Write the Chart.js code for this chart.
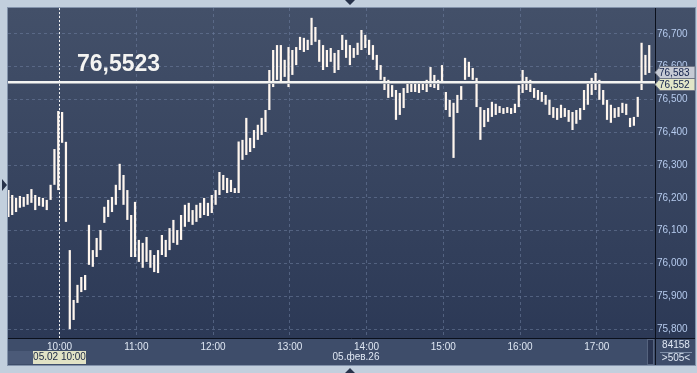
<!DOCTYPE html>
<html lang="ru">
<head>
<meta charset="UTF-8">
<title>USD/RUB 05.02</title>
<script src="https://cdn.jsdelivr.net/npm/chart.js"></script>
<style>
  html, body { margin: 0; padding: 0; background: #c2cfdd; }
  canvas { display: block; }
</style>
</head>
<body>
<canvas id="grafico" width="697" height="373"></canvas>
<script>
// minute bars, 3 min step, minutes counted from 10:00
const startMinute = -40;
const stepMinutes = 3;

const highs = [
  76.224, 76.209, 76.200, 76.206, 76.203, 76.212, 76.227, 76.209, 76.203, 76.200,
  76.194, 76.240, 76.349, 76.465, 76.462, 76.371, 76.041, 75.889, 75.935, 75.959,
  75.965, 76.118, 76.041, 76.078, 76.102, 76.173, 76.194, 76.203, 76.240, 76.304,
  76.270, 76.224, 76.148, 76.188, 76.072, 76.063, 76.081, 76.041, 76.026, 76.041,
  76.087, 76.072, 76.108, 76.133, 76.102, 76.148, 76.179, 76.185, 76.163, 76.179,
  76.185, 76.200, 76.185, 76.209, 76.224, 76.279, 76.270, 76.261, 76.255, 76.230,
  76.372, 76.377, 76.444, 76.383, 76.407, 76.423, 76.444, 76.468, 76.590, 76.651,
  76.666, 76.666, 76.621, 76.660, 76.651, 76.660, 76.691, 76.688, 76.682, 76.749,
  76.721, 76.682, 76.666, 76.651, 76.657, 76.642, 76.651, 76.697, 76.682, 76.666,
  76.657, 76.673, 76.712, 76.697, 76.682, 76.666, 76.636, 76.605, 76.569, 76.560,
  76.544, 76.529, 76.520, 76.535, 76.554, 76.551, 76.554, 76.548, 76.554, 76.560,
  76.599, 76.575, 76.560, 76.605, 76.523, 76.499, 76.490, 76.514, 76.541, 76.627,
  76.615, 76.596, 76.566, 76.477, 76.468, 76.474, 76.493, 76.487, 76.480, 76.474,
  76.477, 76.474, 76.487, 76.544, 76.590, 76.569, 76.560, 76.535, 76.529, 76.523,
  76.514, 76.499, 76.477, 76.474, 76.484, 76.474, 76.468, 76.462, 76.468, 76.474,
  76.529, 76.551, 76.566, 76.581, 76.560, 76.529, 76.499, 76.484, 76.474, 76.477,
  76.490, 76.487, 76.444, 76.447, 76.508, 76.673, 76.636, 76.666
];
const lows = [
  76.142, 76.148, 76.157, 76.170, 76.173, 76.179, 76.185, 76.163, 76.176, 76.173,
  76.163, 76.194, 76.240, 76.224, 76.368, 76.127, 75.800, 75.828, 75.880, 75.913,
  75.919, 75.996, 75.990, 76.020, 76.041, 76.124, 76.142, 76.157, 76.179, 76.224,
  76.179, 76.133, 76.020, 76.020, 76.005, 75.987, 76.005, 75.987, 75.974, 75.971,
  76.026, 76.020, 76.041, 76.063, 76.057, 76.072, 76.112, 76.127, 76.118, 76.127,
  76.139, 76.148, 76.145, 76.154, 76.179, 76.209, 76.224, 76.215, 76.218, 76.215,
  76.215, 76.316, 76.331, 76.340, 76.352, 76.377, 76.392, 76.401, 76.468, 76.538,
  76.560, 76.551, 76.569, 76.538, 76.575, 76.605, 76.651, 76.645, 76.651, 76.666,
  76.676, 76.615, 76.590, 76.599, 76.615, 76.581, 76.590, 76.651, 76.627, 76.605,
  76.627, 76.636, 76.651, 76.657, 76.636, 76.621, 76.590, 76.560, 76.529, 76.505,
  76.508, 76.438, 76.453, 76.474, 76.520, 76.523, 76.523, 76.520, 76.529, 76.523,
  76.538, 76.535, 76.529, 76.551, 76.468, 76.447, 76.322, 76.459, 76.499, 76.560,
  76.569, 76.560, 76.477, 76.377, 76.416, 76.432, 76.447, 76.453, 76.459, 76.456,
  76.459, 76.456, 76.459, 76.477, 76.520, 76.529, 76.523, 76.505, 76.499, 76.493,
  76.484, 76.453, 76.444, 76.438, 76.444, 76.447, 76.432, 76.407, 76.426, 76.438,
  76.468, 76.484, 76.514, 76.529, 76.499, 76.484, 76.438, 76.429, 76.444, 76.447,
  76.459, 76.453, 76.416, 76.420, 76.447, 76.529, 76.575, 76.581
];

const hourTicks = [0, 60, 120, 180, 240, 300, 360, 420];
const priceTicks = [75.8, 75.9, 76.0, 76.1, 76.2, 76.3, 76.4, 76.5, 76.6, 76.7];
const lastPrice = 76.5523;
const tagPrices = [76.583, 76.552];
const cursorLabel = '05.02 10:00';
const dateLabel = '05.фев.26';
const barCount = '84158';
const visibleBars = '>505<';

const fmt = v => v.toFixed(3).replace('.', ',');
const bars = highs.map((h, i) => ({ x: startMinute + i * stepMinutes, y: [lows[i], h] }));

const decor = {
  id: 'decor',
  beforeDraw(chart) {
    const ctx = chart.ctx;
    ctx.save();
    ctx.fillStyle = '#c2cfdd';
    ctx.fillRect(0, 0, 697, 373);
    const g = ctx.createLinearGradient(0, 8, 0, 338);
    g.addColorStop(0, '#435069');
    g.addColorStop(1, '#2c3956');
    ctx.fillStyle = g;
    ctx.fillRect(8, 8, 687, 330);
    ctx.fillStyle = '#3e4d6a';
    ctx.fillRect(8, 338, 687, 27);
    ctx.fillStyle = '#4b5a78';
    ctx.fillRect(8, 351, 25, 13);
    ctx.strokeStyle = '#8393ab';
    ctx.lineWidth = 1;
    ctx.strokeRect(7.5, 7.5, 688, 358);
    ctx.restore();
  },
  afterDraw(chart) {
    const ctx = chart.ctx;
    const xs = chart.scales.x, ys = chart.scales.y;
    const ca = chart.chartArea;
    ctx.save();

    // axis separators
    ctx.strokeStyle = '#0b101c';
    ctx.lineWidth = 1;
    ctx.beginPath();
    ctx.moveTo(ca.right + 0.5, 8); ctx.lineTo(ca.right + 0.5, 365);
    ctx.moveTo(8, ca.bottom + 0.5); ctx.lineTo(695, ca.bottom + 0.5);
    ctx.stroke();

    // cursor line at 10:00
    const cx = Math.round(xs.getPixelForValue(0)) - 0.5;
    ctx.strokeStyle = '#f2f2f2';
    ctx.setLineDash([2, 2]);
    ctx.beginPath();
    ctx.moveTo(cx, ca.top); ctx.lineTo(cx, ca.bottom);
    ctx.stroke();
    ctx.setLineDash([]);

    // last price line
    const ly = Math.round(ys.getPixelForValue(lastPrice));
    ctx.fillStyle = '#f4f4f2';
    ctx.fillRect(ca.left, ly - 1, ca.right - ca.left, 2);
    ctx.fillStyle = '#9ea3ad';
    ctx.fillRect(ca.left, ly + 1, ca.right - ca.left, 1);

    ctx.fillStyle = '#f4f4f2';
    ctx.font = 'bold 23px "Liberation Sans", Arial, sans-serif';
    ctx.textBaseline = 'alphabetic';
    ctx.textAlign = 'left';
    ctx.fillText(lastPrice.toFixed(4).replace('.', ','), 77, 71);

    // price tags on the right axis
    const t1 = Math.round(ys.getPixelForValue(tagPrices[0])) + 0.5;
    const tagYs = [t1, t1 + 12];
    const tagFills = ['#c6cad4', '#e2e6c8'];
    ctx.font = '10px "Liberation Sans", Arial, sans-serif';
    ctx.textBaseline = 'middle';
    tagPrices.forEach((p, i) => {
      const y = tagYs[i];
      ctx.beginPath();
      ctx.moveTo(ca.right, y);
      ctx.lineTo(ca.right + 5, y - 6);
      ctx.lineTo(695, y - 6);
      ctx.lineTo(695, y + 6);
      ctx.lineTo(ca.right + 5, y + 6);
      ctx.closePath();
      ctx.fillStyle = tagFills[i];
      ctx.fill();
      ctx.strokeStyle = '#6f7686';
      ctx.stroke();
      ctx.fillStyle = '#13224c';
      ctx.fillText(fmt(p), ca.right + 4, y + 0.5);
    });

    // bottom row labels
    ctx.fillStyle = '#e1e2c5';
    ctx.fillRect(Math.round(cx - 26.5), 351, 53, 13);
    ctx.fillStyle = '#1b2744';
    ctx.textAlign = 'center';
    ctx.fillText(cursorLabel, cx, 357.5);
    ctx.fillStyle = '#dfe7f3';
    ctx.fillText(dateLabel, 356, 357.5);
    ctx.fillText(barCount, 676, 345.5);
    ctx.fillText(visibleBars, 676, 358.5);
    ctx.strokeStyle = '#7f8fa8';
    ctx.beginPath();
    ctx.moveTo(660, 352.5); ctx.lineTo(692, 352.5);
    ctx.stroke();

    // scroll handle
    ctx.fillStyle = '#2a3551';
    ctx.fillRect(648, 340, 5, 24);
    ctx.strokeStyle = '#56647f';
    ctx.strokeRect(647.5, 339.5, 6, 25);

    // frame arrows
    ctx.fillStyle = '#27324a';
    ctx.beginPath();
    ctx.moveTo(345, 0); ctx.lineTo(355, 0); ctx.lineTo(350, 5); ctx.closePath();
    ctx.moveTo(345, 373); ctx.lineTo(355, 373); ctx.lineTo(350, 368); ctx.closePath();
    ctx.moveTo(2, 179); ctx.lineTo(2, 191); ctx.lineTo(7, 185); ctx.closePath();
    ctx.fill();

    ctx.restore();
  }
};

new Chart(document.getElementById('grafico'), {
  type: 'bar',
  data: {
    datasets: [{
      data: bars,
      backgroundColor: '#fff6ee',
      borderWidth: 0,
      barPercentage: 0.58,
      categoryPercentage: 1
    }]
  },
  options: {
    responsive: false,
    animation: false,
    events: [],
    layout: { padding: { left: 8, top: 8, right: 2, bottom: 8 } },
    plugins: { legend: { display: false }, tooltip: { enabled: false } },
    scales: {
      x: {
        type: 'linear',
        offset: false,
        min: -40.3,
        max: 465.5,
        afterBuildTicks: s => { s.ticks = hourTicks.map(v => ({ value: v })); },
        afterFit: s => { s.height = 27; },
        grid: { color: 'rgba(112,128,160,0.55)', drawTicks: false, offset: false },
        border: { display: false, dash: [3, 3] },
        ticks: {
          color: '#dfe7f3',
          padding: 3,
          maxRotation: 0,
          font: { family: '"Liberation Sans", Arial, sans-serif', size: 10 },
          callback: v => (10 + v / 60) + ':00'
        }
      },
      y: {
        position: 'right',
        min: 75.773,
        max: 76.779,
        afterBuildTicks: s => { s.ticks = priceTicks.map(v => ({ value: v })); },
        afterFit: s => { s.width = 40; },
        grid: { color: 'rgba(112,128,160,0.55)', drawTicks: false },
        border: { display: false, dash: [3, 3] },
        ticks: {
          color: '#b6cbee',
          padding: 2,
          font: { family: '"Liberation Sans", Arial, sans-serif', size: 10 },
          callback: v => fmt(v)
        }
      }
    }
  },
  plugins: [decor]
});
</script>
</body>
</html>
